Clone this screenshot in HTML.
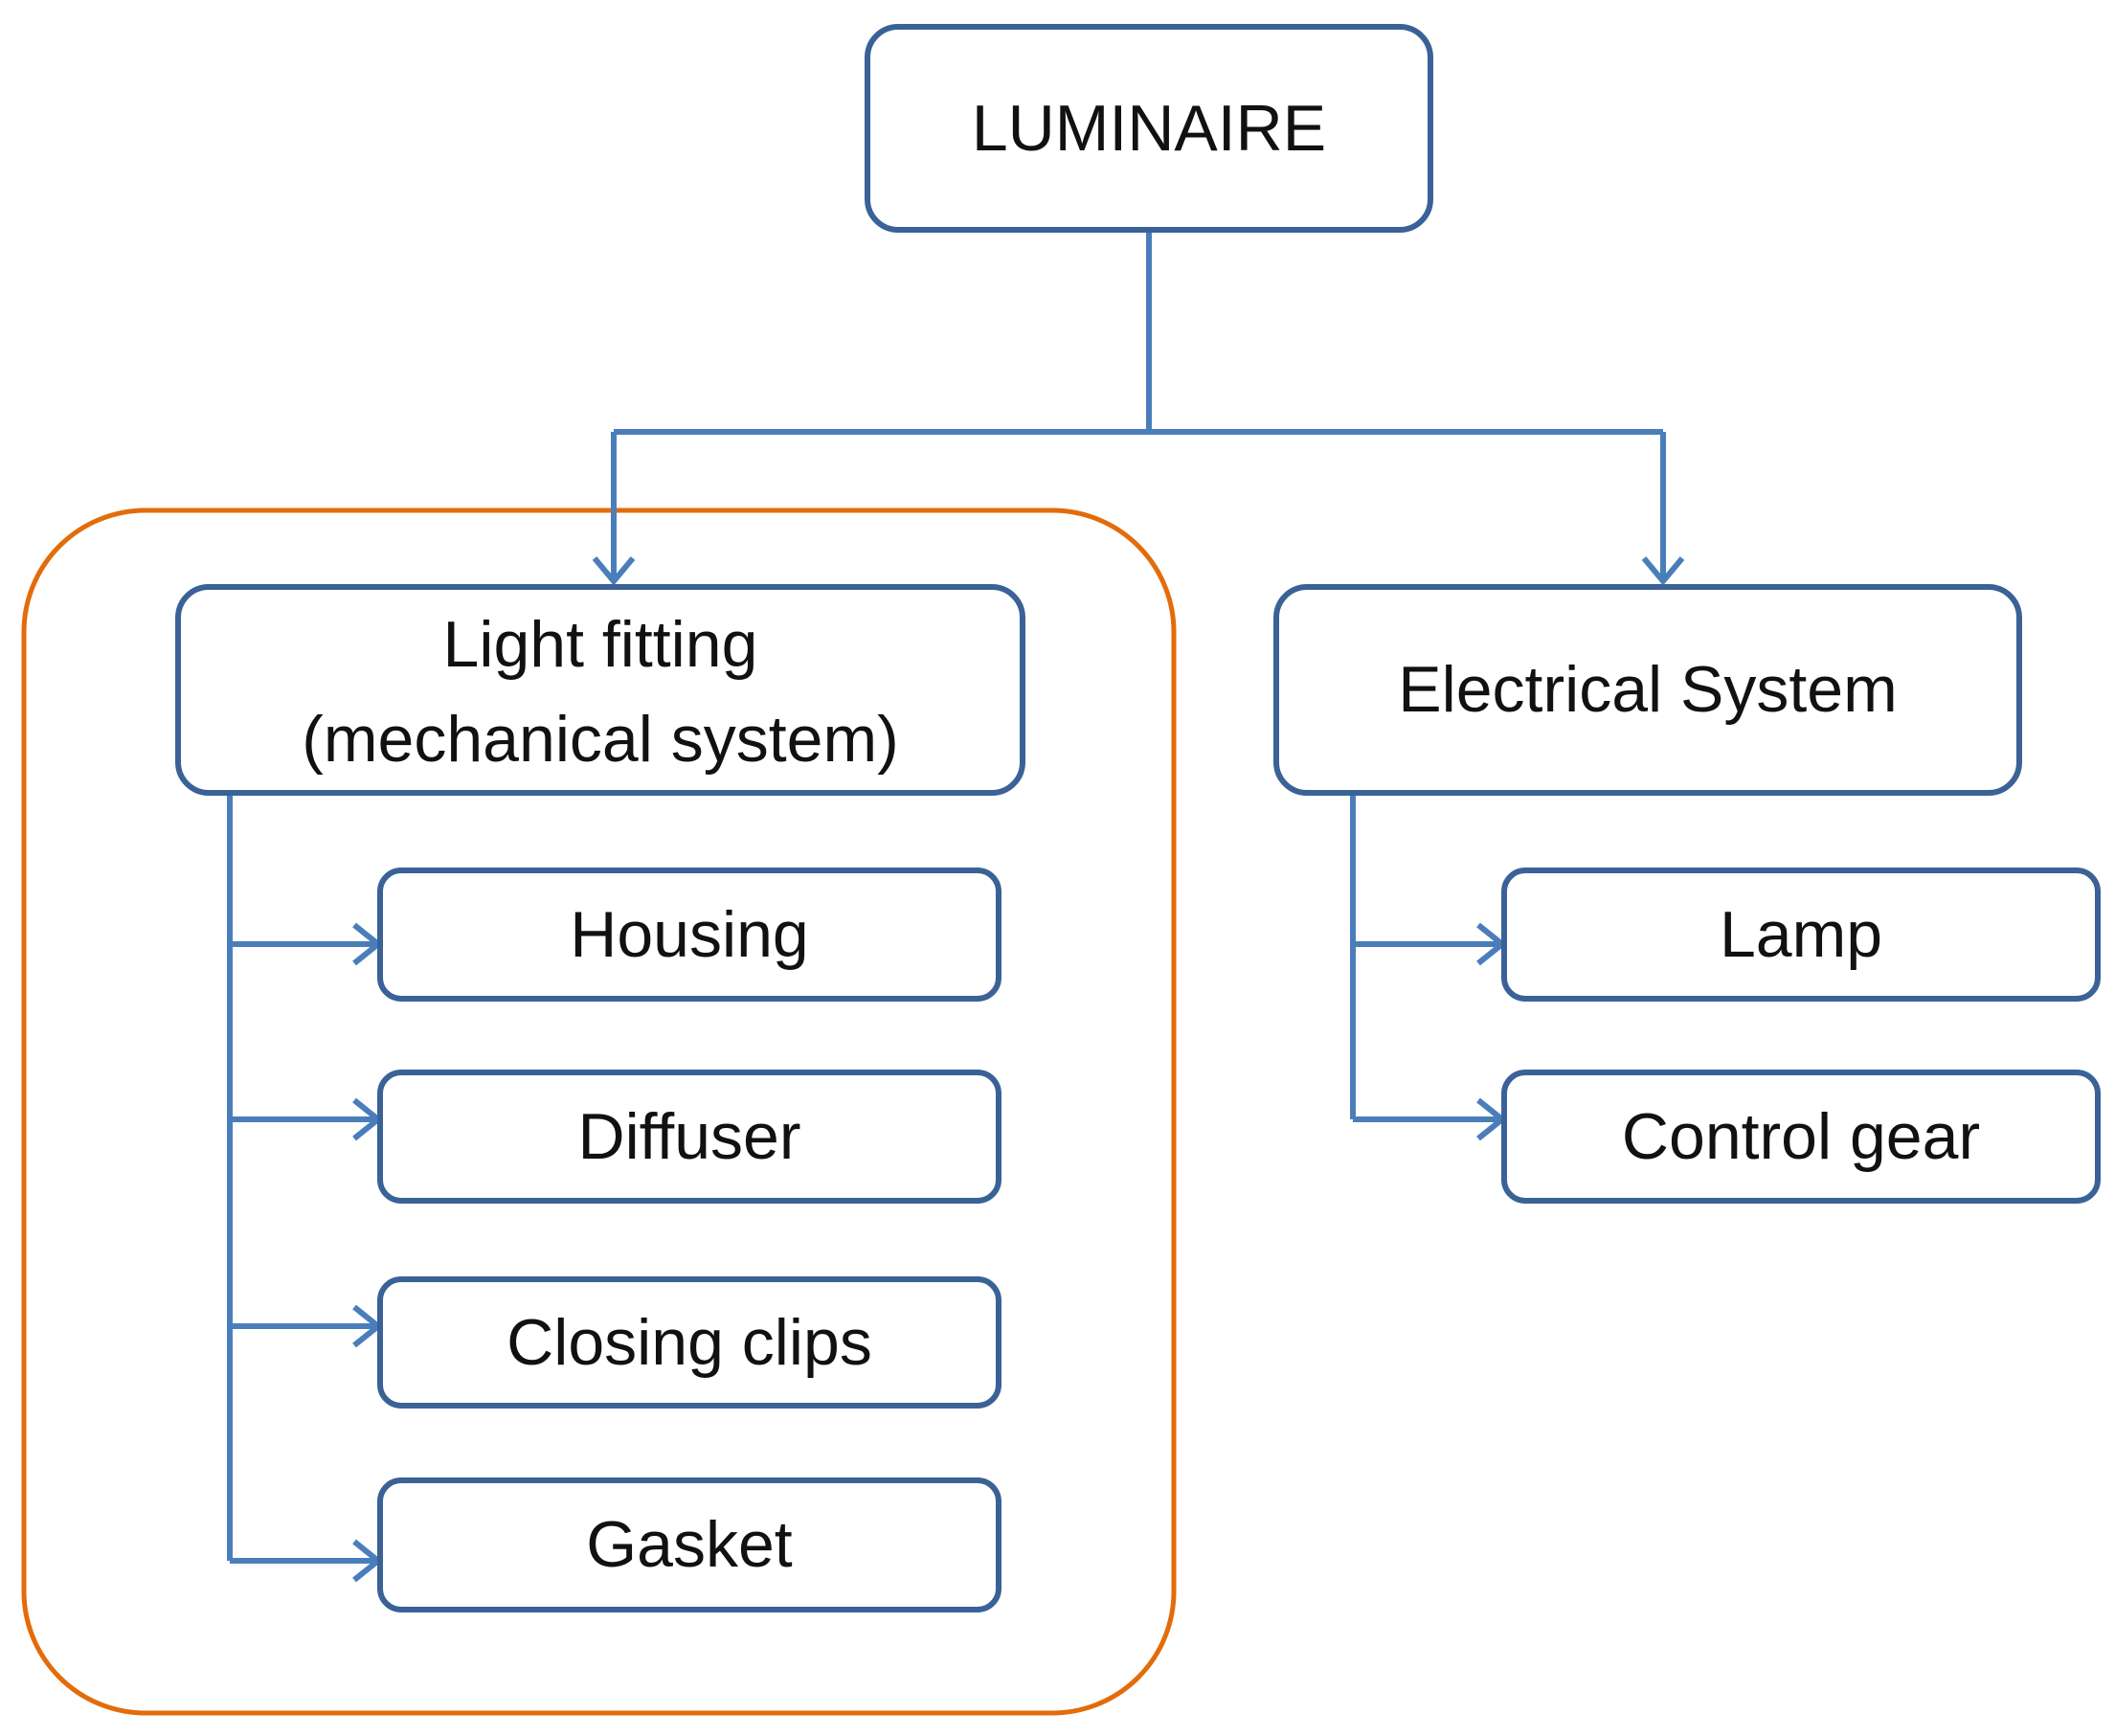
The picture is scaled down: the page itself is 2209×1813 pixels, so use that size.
<!DOCTYPE html>
<html><head><meta charset="utf-8"><style>
html,body{margin:0;padding:0;background:#fff;}
svg{display:block}
text{font-family:"Liberation Sans",sans-serif;font-size:68px;fill:#111;text-anchor:middle;dominant-baseline:central}
</style></head><body>
<svg width="2209" height="1813" viewBox="0 0 2209 1813" xmlns="http://www.w3.org/2000/svg">
<rect x="25" y="533" width="1201" height="1256" rx="127" fill="none" stroke="#e36c0a" stroke-width="5"/>
<g fill="none" stroke="#4a7ebb" stroke-width="6">
<path d="M1200,240 V451 M641,451 H1737 M641,451 V607 M1737,451 V607"/>
<path d="M621,583 L641,607 L661,583 M1717,583 L1737,607 L1757,583"/>
<path d="M240,828 V1630 M240,986 H395 M240,1169 H395 M240,1385 H395 M240,1630 H395"/>
<path d="M1413,828 V1169 M1413,986 H1569 M1413,1169 H1569"/>
<path d="M370,966 L395,986 L370,1006 M370,1149 L395,1169 L370,1189 M370,1365 L395,1385 L370,1405 M370,1610 L395,1630 L370,1650 M1544,966 L1569,986 L1544,1006 M1544,1149 L1569,1169 L1544,1189"/>
</g>
<g fill="#fff" stroke="#3a6296" stroke-width="6">
<rect x="906" y="28" width="588" height="212" rx="32"/>
<rect x="186" y="613" width="882" height="215" rx="32"/>
<rect x="1333" y="613" width="776" height="215" rx="32"/>
<rect x="397" y="909" width="646" height="134" rx="22"/>
<rect x="397" y="1120" width="646" height="134" rx="22"/>
<rect x="397" y="1336" width="646" height="132" rx="22"/>
<rect x="397" y="1546" width="646" height="135" rx="22"/>
<rect x="1571" y="909" width="620" height="134" rx="22"/>
<rect x="1571" y="1120" width="620" height="134" rx="22"/>
</g>
<text x="1200" y="134">LUMINAIRE</text>
<text x="627" y="673">Light fitting</text>
<text x="627" y="772">(mechanical system)</text>
<text x="1721" y="720">Electrical System</text>
<text x="720" y="976">Housing</text>
<text x="720" y="1187">Diffuser</text>
<text x="720" y="1402">Closing clips</text>
<text x="720" y="1613">Gasket</text>
<text x="1881" y="976">Lamp</text>
<text x="1881" y="1187">Control gear</text>
</svg>
</body></html>
